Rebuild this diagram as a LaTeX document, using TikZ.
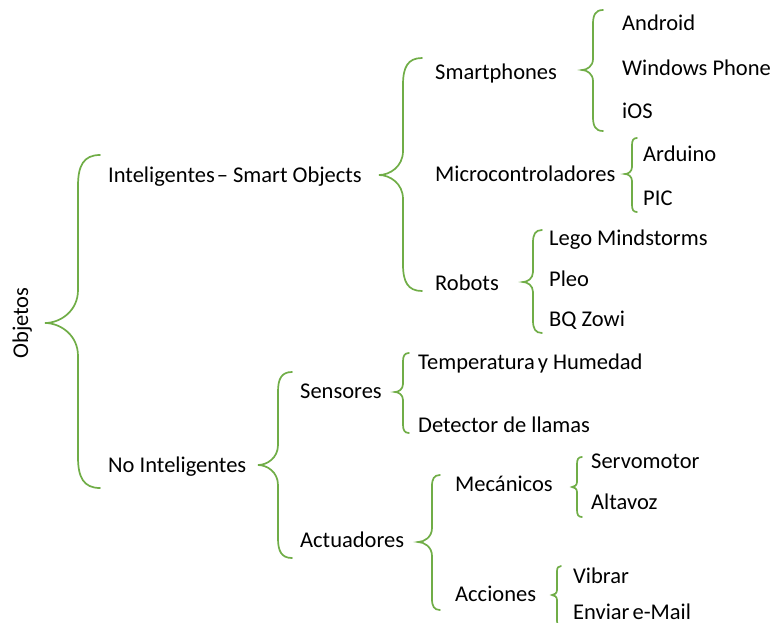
\documentclass[tikz,border=0pt]{standalone}
\usepackage{fontspec}
\setmainfont{Carlito}
\definecolor{bracegreen}{RGB}{112,173,71}
\tikzset{
  brace/.style={draw=bracegreen, line width=1.7pt, line cap=round},
  lbl/.style={anchor=base west, inner sep=0pt, font=\fontsize{22.5}{27}\selectfont, text=black}
}
\newcommand\cbrace[7]{% name, tipx, tipy, vx, ex, ty, by
  \pgfmathsetmacro\hA{min(1.4*(#5-#4),0.45*(#3-#6))}
  \pgfmathsetmacro\hB{min(1.0*(#4-#2),0.45*(#3-#6))}
  \pgfmathsetmacro\hC{min(1.4*(#5-#4),0.45*(#7-#3))}
  \pgfmathsetmacro\hD{min(1.0*(#4-#2),0.45*(#7-#3))}
  \pgfmathsetmacro\xa{#4+0.25*(#5-#4)}
  \pgfmathsetmacro\xb{#2+0.45*(#4-#2)}
  \pgfmathsetmacro\ya{#6+\hA}\pgfmathsetmacro\yaa{#6+0.35*\hA}
  \pgfmathsetmacro\yb{#3-\hB}\pgfmathsetmacro\ybb{#3-0.35*\hB}
  \pgfmathsetmacro\yc{#3+\hD}\pgfmathsetmacro\ycc{#3+0.35*\hD}
  \pgfmathsetmacro\yd{#7-\hC}\pgfmathsetmacro\ydd{#7-0.35*\hC}
  \coordinate (#1) at (#2,#3);
  \draw[brace] (#5,#6) .. controls (\xa,#6) and (#4,\yaa) .. (#4,\ya) -- (#4,\yb)
    .. controls (#4,\ybb) and (\xb,#3) .. (#1)
    .. controls (\xb,#3) and (#4,\ycc) .. (#4,\yc) -- (#4,\yd)
    .. controls (#4,\ydd) and (\xa,#7) .. (#5,#7);
}
\begin{document}
\begin{tikzpicture}[x=1pt,y=-1pt]
\useasboundingbox (0,0) rectangle (772,622);
% texts
\node[anchor=base, inner sep=0pt, font=\fontsize{22.5}{27}\selectfont, rotate=90] (objetos) at (28,323) {Objetos};
\node[lbl] (intel) at (108,182) {Inteligentes\hspace{2pt}– Smart Objects};
\node[lbl] (nointel) at (108,472) {No Inteligentes};
\node[lbl] (smart) at (435,79) {Smartphones};
\node[lbl] (micro) at (435,181) {Microcontroladores};
\node[lbl] (robots) at (435,290) {Robots};
\node[lbl] (android) at (622,30) {Android};
\node[lbl] (winph) at (622,75) {Windows Phone};
\node[lbl] (ios) at (622,118) {iOS};
\node[lbl] (arduino) at (643,161) {Arduino};
\node[lbl] (pic) at (643,205) {PIC};
\node[lbl] (lego) at (549,245) {Lego Mindstorms};
\node[lbl] (pleo) at (549,286) {Pleo};
\node[lbl] (zowi) at (549,326) {BQ Zowi};
\node[lbl] (sensores) at (300,398) {Sensores};
\node[lbl] (actuadores) at (300,547) {Actuadores};
\node[lbl] (temp) at (418,369) {Temperatura\hspace{3pt}y Humedad};
\node[lbl] (detector) at (418,432) {Detector de llamas};
\node[lbl] (mecanicos) at (455,491) {Mecánicos};
\node[lbl] (acciones) at (455,601) {Acciones};
\node[lbl] (servo) at (591,468) {Servomotor};
\node[lbl] (altavoz) at (591,509) {Altavoz};
\node[lbl] (vibrar) at (573,583) {Vibrar};
\node[lbl] (email) at (573,619) {Enviar\hspace{3pt}e-Mail};
% braces
\cbrace{b1}{45}{323}{78}{100}{155}{488}
\cbrace{b2}{379}{175}{403}{422}{58}{291}
\cbrace{b3}{582}{70}{593}{603}{10}{131}
\cbrace{b4}{625}{174}{632}{637}{138}{212}
\cbrace{b5}{523}{282}{533}{542}{230}{333}
\cbrace{b6}{258}{465}{278}{292}{372}{558}
\cbrace{b7}{395}{392}{403}{409}{353}{433}
\cbrace{b8}{418}{542}{432}{440}{475}{610}
\cbrace{b9}{572}{487}{577}{582}{457}{517}
\cbrace{b10}{552}{595}{557}{561}{566}{626}
\end{tikzpicture}
\end{document}
